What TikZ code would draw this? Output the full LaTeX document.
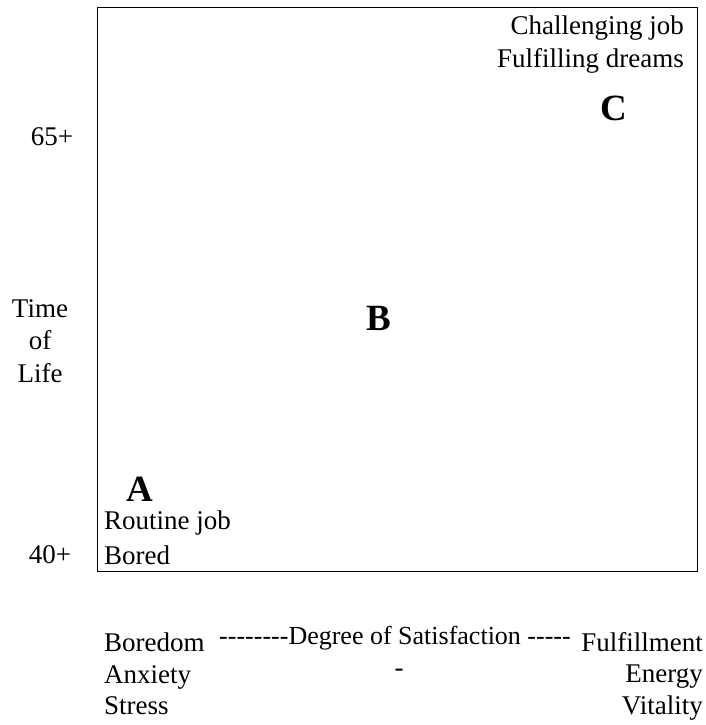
\documentclass[tikz,border=0pt]{standalone}
\usepackage{fontspec}
\setmainfont{Liberation Serif}[Ligatures=TeXOff]
\begin{document}
\begin{tikzpicture}[x=1pt,y=-1pt,
  txt/.style={font=\fontsize{27}{31.5}\selectfont, inner sep=0pt},
  big/.style={font=\fontsize{37}{40}\selectfont\bfseries, inner sep=0pt}]
\useasboundingbox (0,0) rectangle (706,725);
\node[draw, line width=1.3pt, minimum width=600pt, minimum height=564pt, anchor=north west, inner sep=0pt] (box) at (97,7) {};
\node[txt, anchor=east] (ch) at (684,28) {Challenging job};
\node[txt, anchor=east] (fd) at (684,61) {Fulfilling dreams};
\node[big] (C) at (614,108) {C};
\node[txt] (s65) at (52,137) {65+};
\node[big] (B) at (379,318) {B};
\node[txt, align=center, font=\fontsize{27}{32.5}\selectfont] (tol) at (40,341) {Time\\of\\Life};
\node[big] (A) at (140,489) {A};
\node[txt, anchor=west] (rj) at (104,523) {Routine job};
\node[txt, anchor=west] (bo) at (104,555) {Bored};
\node[txt] (s40) at (50,555) {40+};
\node[txt, anchor=west, align=left] (left) at (104,674) {Boredom\\Anxiety\\Stress};
\node[txt, font=\fontsize{26}{30}\selectfont] (deg) at (395,638) {--------Degree of Satisfaction -----};
\node[txt] (dash) at (399,673) {-};
\node[txt, anchor=east, align=right] (right) at (703,676) {Fulfillment\\Energy\\Vitality};
\end{tikzpicture}
\end{document}
